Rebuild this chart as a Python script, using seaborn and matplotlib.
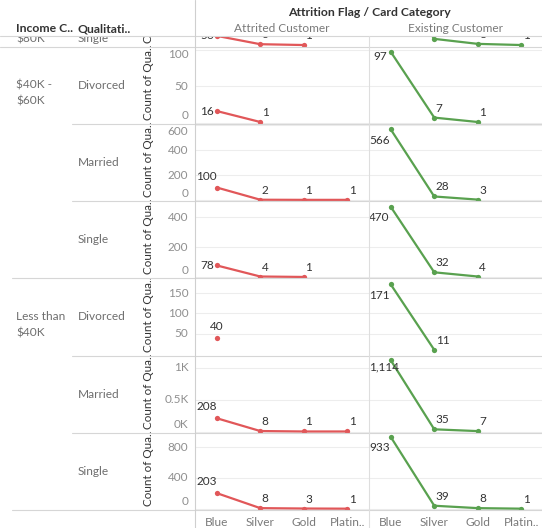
import matplotlib
matplotlib.use("Agg")
import pandas as pd
import seaborn as sns
import matplotlib.pyplot as plt
from matplotlib.lines import Line2D
from matplotlib.patches import Rectangle

# ---------------------------------------------------------------- data
card_categories = ["Blue", "Silver", "Gold", "Platinum"]
card_tick_labels = ["Blue", "Silver", "Gold", "Platin.."]
attrition_flags = ["Attrited Customer", "Existing Customer"]

row_income = ["$60K - $80K", "$40K - $60K", "$40K - $60K", "$40K - $60K",
              "Less than $40K", "Less than $40K", "Less than $40K"]
row_status = ["Single", "Divorced", "Married", "Single",
              "Divorced", "Married", "Single"]
income_header_lines = {
    "$60K - $80K": ["$60K -", "$80K"],
    "$40K - $60K": ["$40K -", "$60K"],
    "Less than $40K": ["Less than", "$40K"],
}

# Count of customers per card category (Blue, Silver, Gold, Platinum);
# None means no customer in that cell.
attrited_60_80_single = [56, 6, 1, None]
existing_60_80_single = [420, 38, 8, 1]
attrited_40_60_divorced = [16, 1, None, None]
existing_40_60_divorced = [97, 7, 1, None]
attrited_40_60_married = [100, 2, 1, 1]
existing_40_60_married = [566, 28, 3, None]
attrited_40_60_single = [78, 4, 1, None]
existing_40_60_single = [470, 32, 4, None]
attrited_lt40_divorced = [40, None, None, None]
existing_lt40_divorced = [171, 11, None, None]
attrited_lt40_married = [208, 8, 1, 1]
existing_lt40_married = [1114, 35, 7, None]
attrited_lt40_single = [203, 8, 3, 1]
existing_lt40_single = [933, 39, 8, 1]

attrited_counts = [attrited_60_80_single, attrited_40_60_divorced,
                   attrited_40_60_married, attrited_40_60_single,
                   attrited_lt40_divorced, attrited_lt40_married,
                   attrited_lt40_single]
existing_counts = [existing_60_80_single, existing_40_60_divorced,
                   existing_40_60_married, existing_40_60_single,
                   existing_lt40_divorced, existing_lt40_married,
                   existing_lt40_single]

records = []
for r in range(len(row_status)):
    for flag, table in zip(attrition_flags, (attrited_counts, existing_counts)):
        for pos, (card, v) in enumerate(zip(card_categories, table[r])):
            if v is not None:
                records.append(dict(row=r, flag=flag, card=card, pos=pos, count=v))
df = pd.DataFrame(records)

# ---------------------------------------------------------------- axis setup
y_ranges = [(-9, 55.2), (-1.6, 104), (-9, 610), (-8, 508),
            (-2.8, 186), (-18, 1188), (-15, 988)]
y_ticks = [[], [0, 50, 100], [0, 200, 400, 600], [0, 200, 400],
           [50, 100, 150], [0, 500, 1000], [0, 400, 800]]
thousands_rows = {5}

flag_colors = {"Attrited Customer": "#E15759", "Existing Customer": "#59A14F"}

sns.set_style("white")
plt.rcParams["font.family"] = ["Lato", "DejaVu Sans"]

W, H = 542, 528
fig = plt.figure(figsize=(W / 100, H / 100), dpi=100)


def fx(px):
    return px / W


def fy(py):
    return 1 - py / H


HEADER_BOTTOM = 36.0
ROW0 = 46.7
ROW_H = 77.2
PANEL_X = [195.0, 369.0]
PANEL_W = 174.0

TEXT_DARK = "#333333"
TEXT_GREY = "#6e6e6e"
TICK_GREY = "#8f8f8f"
SEP = "#d6d6d6"
GRID = "#ededed"

FS_HEAD = 8.8
FS_ROW = 8.6
FS_TICK = 8.5
FS_VALUE = 8.5
FS_TITLE = 8.4


def row_bounds(r):
    if r == 0:
        return HEADER_BOTTOM, ROW0
    top = ROW0 + (r - 1) * ROW_H
    return top, top + ROW_H


def full_row_center(r):
    top = ROW0 + (r - 1) * ROW_H
    return top + ROW_H / 2


def fmt_tick(r, t):
    if r in thousands_rows:
        return f"{t / 1000:g}K"
    return f"{t:,}"


def label_point(ax, flag_idx, i, n, x, v, clip):
    text = f"{v:,}"
    common = dict(textcoords="offset pixels", va="center", fontsize=FS_VALUE,
                  color=TEXT_DARK, annotation_clip=False, clip_on=clip)
    if i == 0:
        if n == 1:
            ax.annotate(text, xy=(x, v), xytext=(0, 11.5), ha="center", **common)
        elif flag_idx == 0:
            if len(text) <= 2:
                ax.annotate(text, xy=(x, v), xytext=(-3, 0), ha="right", **common)
            else:
                ax.annotate(text, xy=(x, v), xytext=(0, 11.5), ha="right", **common)
        else:
            if len(text) > 3:
                # too wide to sit left of the point: pinned to the pane edge
                ax.annotate(text, xy=(0, v), xycoords=("axes fraction", "data"),
                            xytext=(0, -6.5), ha="left", **common)
            elif len(text) <= 2:
                ax.annotate(text, xy=(x, v), xytext=(-4, -5), ha="right", **common)
            else:
                ax.annotate(text, xy=(x, v), xytext=(-1, -11), ha="right", **common)
    else:
        ax.annotate(text, xy=(x, v), xytext=(1.5, 9.5), ha="left", **common)


n_rows = len(row_status)
for r in range(n_rows):
    top, bottom = row_bounds(r)
    h = bottom - top
    y0, y1 = y_ranges[r]
    for c, flag in enumerate(attrition_flags):
        ax = fig.add_axes([fx(PANEL_X[c]), fy(bottom), PANEL_W / W, h / H])
        sub = df[(df.row == r) & (df.flag == flag)].sort_values("pos")
        sns.lineplot(data=sub, x="pos", y="count", color=flag_colors[flag],
                     marker="o", markersize=3.8, markeredgewidth=0,
                     linewidth=1.6, estimator=None, legend=False, ax=ax)
        ax.set_xlim(-0.5, 3.5)
        ax.set_ylim(y0, y1)
        ax.set_xlabel("")
        ax.set_ylabel("")
        for s in ax.spines.values():
            s.set_visible(False)
        ax.set_yticks(y_ticks[r])
        ax.grid(axis="y", color=GRID, linewidth=0.8)
        ax.grid(axis="x", visible=False)
        ax.set_axisbelow(True)
        ax.tick_params(left=False, labelleft=False, bottom=False)
        if r == n_rows - 1:
            ax.set_xticks(range(len(card_categories)))
            ax.set_xticklabels(card_tick_labels)
            ax.tick_params(labelbottom=True, labelsize=FS_ROW,
                           labelcolor="#7a7a7a", pad=1.5)
        else:
            ax.set_xticks([])
        pts = list(zip(sub["pos"], sub["count"]))
        for i, (x, v) in enumerate(pts):
            label_point(ax, c, i, len(pts), x, v, clip=(r == 0))

        if c == 0:
            for t in y_ticks[r]:
                pix = (t - y0) / (y1 - y0) * h
                pix = min(max(pix, 8.0), h - 8.0)
                ax.annotate(fmt_tick(r, t), xy=(0, pix / h), xycoords="axes fraction",
                            xytext=(-6.5, 0), textcoords="offset pixels",
                            ha="right", va="center", fontsize=FS_TICK, color=TICK_GREY,
                            annotation_clip=False)

    # axis title for the row
    if r == 0:
        tc = ROW0 - ROW_H / 2 - 3
    else:
        tc = full_row_center(r) - 3
    fig.text(fx(148.5), fy(tc), "Count of Qua..", rotation=90, ha="center",
             va="center", fontsize=FS_TITLE, color=TEXT_DARK)

    # marital-status header
    sy = 38.5 if r == 0 else full_row_center(r)
    fig.text(fx(78), fy(sy), row_status[r], ha="left", va="center",
             fontsize=FS_ROW, color=TEXT_GREY)

# income headers (first line level with the group's first row)
first_rows = {}
for r, inc in enumerate(row_income):
    first_rows.setdefault(inc, r)
for inc, r in first_rows.items():
    lines = income_header_lines[inc]
    if r == 0:
        ys = [38.5 - 16 * (len(lines) - 1 - k) for k in range(len(lines))]
    else:
        ys = [full_row_center(r) + 16 * k for k in range(len(lines))]
    for line, yy in zip(lines, ys):
        fig.text(fx(16), fy(yy), line, ha="left", va="center",
                 fontsize=FS_ROW, color=TEXT_GREY)


def hline(y, x0, x1, color=SEP, z=4, lw=0.8):
    fig.add_artist(Line2D([fx(x0), fx(x1)], [fy(y), fy(y)],
                          transform=fig.transFigure, color=color, lw=lw, zorder=z))


def vline(x, y0, y1, color=SEP, z=4, lw=0.8):
    fig.add_artist(Line2D([fx(x), fx(x)], [fy(y0), fy(y1)],
                          transform=fig.transFigure, color=color, lw=lw, zorder=z))


# row separators
for r in range(1, n_rows):
    top, _ = row_bounds(r)
    if row_income[r] != row_income[r - 1]:
        hline(top, 0 if r == 1 else 12, W)
    else:
        hline(top, 72, W)
hline(row_bounds(n_rows - 1)[1], 12, W)

# header band drawn over the scrolled rows
fig.add_artist(Rectangle((0, fy(HEADER_BOTTOM)), 1, HEADER_BOTTOM / H,
                         transform=fig.transFigure, facecolor="white",
                         edgecolor="none", zorder=5))
hline(HEADER_BOTTOM, 0, W, z=6)
vline(PANEL_X[0], 0, H, color="#cfcfcf", z=6)
vline(PANEL_X[1], HEADER_BOTTOM, H, color="#dedede", z=6)

fig.text(fx(16), fy(28.5), "Income C..", ha="left", va="center", fontsize=FS_HEAD,
         fontweight="bold", color=TEXT_DARK, zorder=7)
fig.text(fx(78), fy(28.5), "Qualitati..", ha="left", va="center", fontsize=FS_HEAD,
         fontweight="bold", color=TEXT_DARK, zorder=7)
fig.text(fx(369.5), fy(13), "Attrition Flag / Card Category", ha="center",
         va="center", fontsize=FS_HEAD, fontweight="bold", color=TEXT_DARK, zorder=7)
for c, flag in enumerate(attrition_flags):
    fig.text(fx(PANEL_X[c] + PANEL_W / 2), fy(28.3), flag, ha="center",
             va="center", fontsize=FS_ROW, color="#7a7a7a", zorder=7)

fig.savefig("out.png", dpi=100, facecolor="white")
